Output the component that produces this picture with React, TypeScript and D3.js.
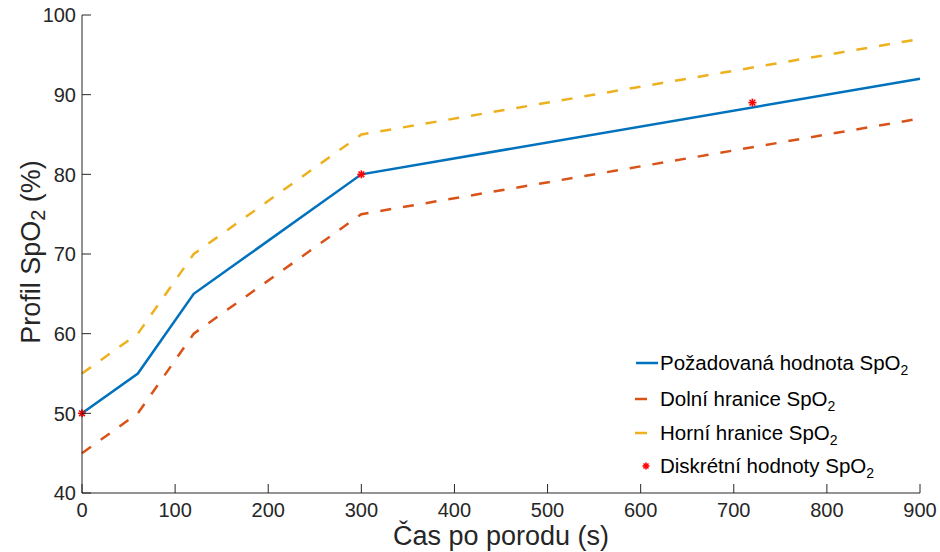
import React from "react";
import * as d3 from "d3";

// Time after birth (s) and SpO2 profile values (%)
const timeSec = [0, 60, 120, 300, 900];
const targetSpO2 = [50, 55, 65, 80, 92];
const lowerSpO2 = [45, 50, 60, 75, 87];
const upperSpO2 = [55, 60, 70, 85, 97];
const discreteTime = [0, 300, 720];
const discreteSpO2 = [50, 80, 89];

const xTicks = [0, 100, 200, 300, 400, 500, 600, 700, 800, 900];
const yTicks = [40, 50, 60, 70, 80, 90, 100];

const W = 940;
const H = 552;
const margin = { left: 82, right: 20, top: 15, bottom: 59 };

const BLUE = "#0072BD";
const ORANGE = "#D95319";
const YELLOW = "#EDB120";
const RED = "#FF0000";
const AXIS = "#262626";
const FONT = "'Liberation Sans', Arial, Helvetica, sans-serif";

export default function App() {
  const x = d3.scaleLinear().domain([0, 900]).range([margin.left, W - margin.right]);
  const y = d3.scaleLinear().domain([40, 100]).range([H - margin.bottom, margin.top]);

  const line = d3
    .line<[number, number]>()
    .x((d) => x(d[0]))
    .y((d) => y(d[1]));

  const pts = (vals: number[]) => timeSec.map((t, i) => [t, vals[i]] as [number, number]);

  const asterisk = (cx: number, cy: number, r: number, key: string) => {
    const segs = [0, 45, 90, 135].map((a) => {
      const rad = (a * Math.PI) / 180;
      return (
        <line
          key={key + a}
          x1={cx - r * Math.cos(rad)}
          y1={cy - r * Math.sin(rad)}
          x2={cx + r * Math.cos(rad)}
          y2={cy + r * Math.sin(rad)}
          stroke={RED}
          strokeWidth={1.6}
        />
      );
    });
    return <g key={key}>{segs}</g>;
  };

  const x0 = x(0);
  const yb = y(40);
  const tickLen = 9;

  const legendItems = [
    { label: "Požadovaná hodnota SpO", kind: "solid", color: BLUE, y: 363 },
    { label: "Dolní hranice SpO", kind: "dash", color: ORANGE, y: 399 },
    { label: "Horní hranice SpO", kind: "dash", color: YELLOW, y: 433 },
    { label: "Diskrétní hodnoty SpO", kind: "marker", color: RED, y: 466 },
  ];

  return (
    <svg width={W} height={H} style={{ display: "block", position: "absolute", left: 0, top: 0 }}>
      <rect width={W} height={H} fill="#fff" />

      {/* data lines */}
      <path d={line(pts(upperSpO2)) || ""} fill="none" stroke={YELLOW} strokeWidth={2.5} strokeDasharray="11,12" />
      <path d={line(pts(lowerSpO2)) || ""} fill="none" stroke={ORANGE} strokeWidth={2.5} strokeDasharray="11,12" />
      <path d={line(pts(targetSpO2)) || ""} fill="none" stroke={BLUE} strokeWidth={2.5} />
      {discreteTime.map((t, i) => asterisk(x(t), y(discreteSpO2[i]), 4, "m" + i))}

      {/* axes */}
      <line x1={x0} y1={margin.top} x2={x0} y2={yb} stroke={AXIS} strokeWidth={1} />
      <line x1={x0} y1={yb} x2={W - margin.right} y2={yb} stroke={AXIS} strokeWidth={1} />
      {yTicks.map((v) => (
        <g key={"yt" + v}>
          <line x1={x0} y1={y(v)} x2={x0 + tickLen} y2={y(v)} stroke={AXIS} strokeWidth={1} />
          <text
            x={x0 - 6}
            y={y(v)}
            dy="0.36em"
            textAnchor="end"
            fontFamily={FONT}
            fontSize={20}
            fill={AXIS}
          >
            {v}
          </text>
        </g>
      ))}
      {xTicks.map((v) => (
        <g key={"xt" + v}>
          <line x1={x(v)} y1={yb} x2={x(v)} y2={yb - tickLen} stroke={AXIS} strokeWidth={1} />
          <text
            x={x(v)}
            y={yb + 24}
            textAnchor="middle"
            fontFamily={FONT}
            fontSize={20}
            fill={AXIS}
          >
            {v}
          </text>
        </g>
      ))}

      {/* axis titles */}
      <text
        x={(x0 + W - margin.right) / 2}
        y={545}
        textAnchor="middle"
        fontFamily={FONT}
        fontSize={27}
        fill={AXIS}
      >
        Čas po porodu (s)
      </text>
      <text
        transform={`translate(40, 252) rotate(-90)`}
        textAnchor="middle"
        fontFamily={FONT}
        fontSize={27}
        fill={AXIS}
      >
        Profil SpO<tspan fontSize={20} dy={5}>2</tspan>
        <tspan dy={-5}> (%)</tspan>
      </text>

      {/* legend */}
      {legendItems.map((it, i) => (
        <g key={"lg" + i}>
          {it.kind === "solid" && (
            <line x1={636} y1={it.y} x2={658} y2={it.y} stroke={it.color} strokeWidth={2.5} />
          )}
          {it.kind === "dash" && (
            <line x1={635} y1={it.y} x2={647} y2={it.y} stroke={it.color} strokeWidth={2.5} />
          )}
          {it.kind === "marker" && asterisk(646, it.y, 3.5, "lgm")}
          <text x={660} y={it.y} dy="0.34em" fontFamily={FONT} fontSize={20.5} fill="#000">
            {it.label}
            <tspan fontSize={14} dy={5}>2</tspan>
          </text>
        </g>
      ))}
    </svg>
  );
}
